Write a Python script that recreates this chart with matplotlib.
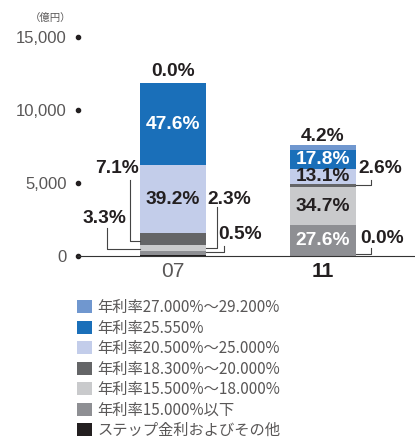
import matplotlib.pyplot as plt
from matplotlib.patches import Patch

plt.rcParams['font.family'] = ['Liberation Sans', 'Noto Sans CJK JP', 'DejaVu Sans']

# データ
years = ['07', '11']
totals = [11850, 7600]  # 億円
categories = [
    '年利率27.000%〜29.200%',
    '年利率25.550%',
    '年利率20.500%〜25.000%',
    '年利率18.300%〜20.000%',
    '年利率15.500%〜18.000%',
    '年利率15.000%以下',
    'ステップ金利およびその他',
]
share_07 = [0.0, 47.6, 39.2, 7.1, 3.3, 2.3, 0.5]
share_11 = [4.2, 17.8, 13.1, 2.6, 34.7, 27.6, 0.0]
colors = ['#7097cf', '#1a6fb9', '#c3cdea', '#646567', '#c9cacc', '#8e8f93', '#231f20']

shares = [share_07, share_11]
DARK = '#231f20'
GRAY = '#595757'

fig = plt.figure(figsize=(4.15, 4.42), dpi=100)
ax = fig.add_axes([78 / 415, 1 - 256 / 442, 337 / 415, 219 / 442])
ax.set_xlim(-0.633, 1.613)
ax.set_ylim(0, 15000)

width = 0.44
# 下から積み上げ (リストの末尾が一番下)
bottoms = {}
for i, sh in enumerate(shares):
    base = 0.0
    for k in reversed(range(len(categories))):
        val = totals[i] * sh[k] / 100
        ax.bar(i, val, width=width, bottom=base, color=colors[k], linewidth=0)
        bottoms[(i, k)] = (base, val)
        base += val

# px -> data 変換
px_x = (ax.get_xlim()[1] - ax.get_xlim()[0]) / 337
px_y = (ax.get_ylim()[1] - ax.get_ylim()[0]) / 219

# 棒の中のラベル
inside = [(0, 1, 'white'), (0, 2, DARK),
          (1, 1, 'white'), (1, 2, DARK), (1, 4, DARK), (1, 5, 'white')]
for i, k, c in inside:
    b, v = bottoms[(i, k)]
    ax.text(i, b + v / 2, f'{shares[i][k]:.1f}%', ha='center', va='center',
            color=c, fontsize=13.8, fontweight='bold')

# 棒の上のラベル
top_gap = [11, 9]
for i in range(len(years)):
    ax.text(i, totals[i] + top_gap[i] * px_y, f'{shares[i][0]:.1f}%', ha='center',
            va='center', color=DARK, fontsize=13.8, fontweight='bold', clip_on=False)

# 引き出し線付きラベル: (棒, 区分, 向き, ずれ, 横, 縦, 文字dx, 文字dy)  単位px
leaders = [
    (0, 3, -1, 2, 10, 61, -13, -12),
    (0, 4, -1, 1, 33, 21, -3, -10),
    (0, 5, 1, -5, 11, 41, 12, -8),
    (0, 6, 1, -4, 18, 6, 16, -11),
    (1, 3, 1, 0, 15, 5, 9, -12),
    (1, 6, 1, -2, 15, 6, 11, -10),
]
for i, k, side, shift, reach, rise, tx, ty in leaders:
    b, v = bottoms[(i, k)]
    x0 = i + side * width / 2
    y0 = b + v / 2 - shift * px_y
    x1 = x0 + side * reach * px_x
    y1 = y0 + rise * px_y
    ax.plot([x0, x1, x1], [y0, y0, y1], color='#444444', lw=0.8, clip_on=False)
    ax.text(x1 + tx * px_x, y1 - ty * px_y, f'{shares[i][k]:.1f}%', ha='center', va='center',
            color=DARK, fontsize=13.8, fontweight='bold', clip_on=False)

# 軸
for s in ['left', 'right', 'top']:
    ax.spines[s].set_visible(False)
ax.spines['bottom'].set_color('#333333')
ax.spines['bottom'].set_linewidth(0.8)

yticks = [0, 5000, 10000, 15000]
ax.set_yticks(yticks)
ax.set_yticklabels([f'{t:,}' for t in yticks], color=GRAY, fontsize=12)
ax.tick_params(axis='y', length=0, pad=8)
ax.plot([0] * len(yticks), yticks, 'o', ms=3, color=DARK,
        transform=ax.get_yaxis_transform(), clip_on=False)

ax.set_xticks(range(len(years)))
ax.set_xticklabels(years, fontsize=15)
ax.tick_params(axis='x', length=0, pad=4)
xl = ax.get_xticklabels()
xl[0].set_color(GRAY)
xl[1].set_color(DARK)
xl[1].set_fontweight('bold')

fig.text(51 / 415, 1 - 18 / 442, '（億円）', ha='center', va='center',
         fontsize=7.5, color=GRAY, family=['Noto Sans CJK JP'])

# 凡例
handles = [Patch(facecolor=c, edgecolor='none') for c in colors]
leg = fig.legend(handles, categories, loc='upper left',
                 bbox_to_anchor=(77 / 415, 1 - 299 / 442), frameon=False,
                 prop={'family': ['Noto Sans CJK JP'], 'size': 11},
                 handlelength=0.95, handleheight=0.9, handletextpad=0.4,
                 labelspacing=0.23, borderpad=0, borderaxespad=0)
for t in leg.get_texts():
    t.set_color(GRAY)

plt.savefig('out.png', dpi=100)
plt.close()
